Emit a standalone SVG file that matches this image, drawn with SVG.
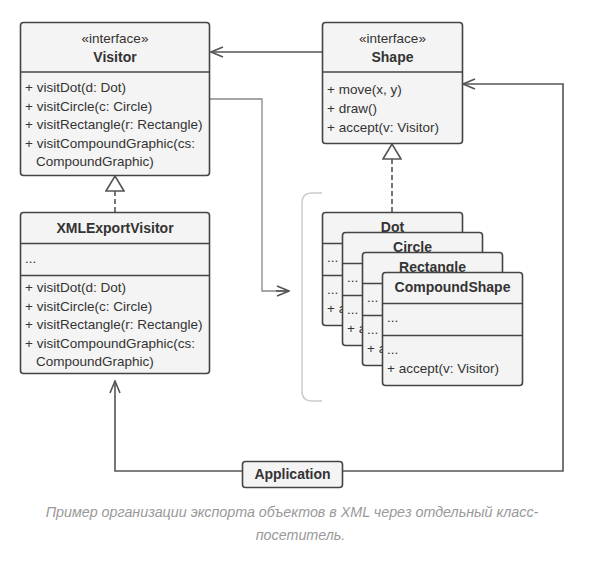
<svg xmlns="http://www.w3.org/2000/svg" width="601" height="565" viewBox="0 0 601 565">
<style>
.box{fill:#f4f4f4;stroke:#444;stroke-width:1.6}
.div{stroke:#444;stroke-width:1.6}
.t{font-family:"Liberation Sans",Arial,sans-serif;font-size:13.5px;fill:#333}
.b{font-weight:bold;font-size:14px}
.m{text-anchor:middle}
.c{fill:none;stroke:#555;stroke-width:1.6}
.cl{fill:none;stroke:#888;stroke-width:1.3}
.d{fill:none;stroke:#555;stroke-width:1.6;stroke-dasharray:5,3}
.cap{font-family:"Liberation Sans",Arial,sans-serif;font-style:italic;font-size:14.3px;fill:#999;text-anchor:middle}
</style>
<defs>
<marker id="open" viewBox="0 0 14 12" refX="13" refY="6" markerWidth="14" markerHeight="12" markerUnits="userSpaceOnUse" orient="auto">
<path d="M1,1 L13,6 L1,11" fill="none" stroke="#555" stroke-width="1.6"/>
</marker>
<marker id="tri" viewBox="0 0 17 20" refX="16" refY="10" markerWidth="17" markerHeight="20" markerUnits="userSpaceOnUse" orient="auto">
<path d="M1,1 L16,10 L1,19 Z" fill="#fff" stroke="#555" stroke-width="1.6"/>
</marker>
<clipPath id="clipDot"><rect x="0" y="0" width="601" height="232"/><rect x="0" y="0" width="342" height="565"/></clipPath>
<clipPath id="clipCircle"><rect x="0" y="0" width="601" height="252"/><rect x="0" y="0" width="362" height="565"/></clipPath>
<clipPath id="clipRect"><rect x="0" y="0" width="601" height="272"/><rect x="0" y="0" width="382" height="565"/></clipPath>
</defs>

<path d="M322,193 H312 Q302,193 302,203 V391 Q302,401 312,401 H322" fill="none" stroke="#ccc" stroke-width="1.5"/>

<g id="connectors">
<path class="c" d="M322,52 H211" marker-end="url(#open)"/>
<path class="cl" d="M210,99 H262 V291 H289"/>
<path class="c" d="M276,291 H289" marker-end="url(#open)"/>
<path class="c" d="M242,471 H115 V381" marker-end="url(#open)"/>
<path class="c" d="M343,471 H563 V84 H463" marker-end="url(#open)"/>
<path class="d" d="M115,212 V176" marker-end="url(#tri)"/>
<path class="d" d="M392,212 V144" marker-end="url(#tri)"/>
</g>

<g id="Visitor">
<rect class="box" x="20.5" y="22.5" width="189" height="153" rx="3"/>
<line class="div" x1="20.5" y1="72" x2="209.5" y2="72"/>
<text class="t m" x="115" y="43">«interface»</text>
<text class="t b m" x="115" y="62">Visitor</text>
<text class="t" x="25" y="92">+ visitDot(d: Dot)</text>
<text class="t" x="25" y="110.5">+ visitCircle(c: Circle)</text>
<text class="t" x="25" y="129">+ visitRectangle(r: Rectangle)</text>
<text class="t" x="25" y="147.5">+ visitCompoundGraphic(cs:</text>
<text class="t" x="36" y="166">CompoundGraphic)</text>
</g>

<g id="Shape">
<rect class="box" x="322.5" y="22.5" width="140" height="121" rx="3"/>
<line class="div" x1="322.5" y1="72" x2="462.5" y2="72"/>
<text class="t m" x="392.5" y="43">«interface»</text>
<text class="t b m" x="392.5" y="62">Shape</text>
<text class="t" x="327" y="94">+ move(x, y)</text>
<text class="t" x="327" y="113">+ draw()</text>
<text class="t" x="327" y="132">+ accept(v: Visitor)</text>
</g>

<g id="XMLExportVisitor">
<rect class="box" x="20.5" y="212.5" width="189" height="161" rx="3"/>
<line class="div" x1="20.5" y1="243.5" x2="209.5" y2="243.5"/>
<line class="div" x1="20.5" y1="275.5" x2="209.5" y2="275.5"/>
<text class="t b m" x="115" y="233">XMLExportVisitor</text>
<text class="t" x="25" y="263">...</text>
<text class="t" x="25" y="292">+ visitDot(d: Dot)</text>
<text class="t" x="25" y="310.5">+ visitCircle(c: Circle)</text>
<text class="t" x="25" y="329">+ visitRectangle(r: Rectangle)</text>
<text class="t" x="25" y="347.5">+ visitCompoundGraphic(cs:</text>
<text class="t" x="36" y="366">CompoundGraphic)</text>
</g>

<g id="Dot">
<rect class="box" x="322.5" y="212.5" width="140" height="113" rx="3"/>
<line class="div" x1="322.5" y1="243.5" x2="462.5" y2="243.5"/>
<line class="div" x1="322.5" y1="275.5" x2="462.5" y2="275.5"/>
<g clip-path="url(#clipDot)">
<text class="t b m" x="392.5" y="232">Dot</text>
<text class="t" x="327" y="262">...</text>
<text class="t" x="327" y="294">...</text>
<text class="t" x="327" y="313">+ accept(v: Visitor)</text>
</g>
</g>

<g id="Circle">
<rect class="box" x="342.5" y="232.5" width="140" height="113" rx="3"/>
<line class="div" x1="342.5" y1="263.5" x2="482.5" y2="263.5"/>
<line class="div" x1="342.5" y1="295.5" x2="482.5" y2="295.5"/>
<g clip-path="url(#clipCircle)">
<text class="t b m" x="412.5" y="252">Circle</text>
<text class="t" x="347" y="282">...</text>
<text class="t" x="347" y="314">...</text>
<text class="t" x="347" y="333">+ accept(v: Visitor)</text>
</g>
</g>

<g id="Rectangle">
<rect class="box" x="362.5" y="252.5" width="140" height="113" rx="3"/>
<line class="div" x1="362.5" y1="283.5" x2="502.5" y2="283.5"/>
<line class="div" x1="362.5" y1="315.5" x2="502.5" y2="315.5"/>
<g clip-path="url(#clipRect)">
<text class="t b m" x="432.5" y="272">Rectangle</text>
<text class="t" x="367" y="302">...</text>
<text class="t" x="367" y="334">...</text>
<text class="t" x="367" y="353">+ accept(v: Visitor)</text>
</g>
</g>

<g id="CompoundShape">
<rect class="box" x="382.5" y="272.5" width="140" height="113" rx="3"/>
<line class="div" x1="382.5" y1="303.5" x2="522.5" y2="303.5"/>
<line class="div" x1="382.5" y1="335.5" x2="522.5" y2="335.5"/>
<text class="t b m" x="452.5" y="292">CompoundShape</text>
<text class="t" x="387" y="322">...</text>
<text class="t" x="387" y="354">...</text>
<text class="t" x="387" y="373">+ accept(v: Visitor)</text>
</g>

<g id="Application">
<rect class="box" x="242.5" y="461.5" width="100" height="26" rx="3"/>
<text class="t b m" x="292.5" y="479">Application</text>
</g>

<text class="cap" x="292" y="517">Пример организации экспорта объектов в XML через отдельный класс-</text>
<text class="cap" x="300.5" y="540">посетитель.</text>
</svg>
